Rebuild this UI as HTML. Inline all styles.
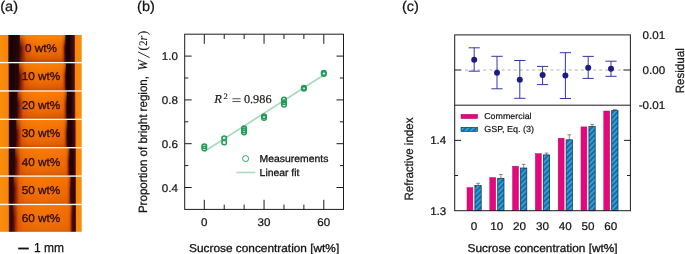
<!DOCTYPE html>
<html><head><meta charset="utf-8"><title>figure</title>
<style>html,body{margin:0;padding:0;background:#fff;}body{width:685px;height:254px;overflow:hidden;}svg{display:block;will-change:transform;}text{text-rendering:geometricPrecision;font-family:"Liberation Sans",sans-serif;fill:#141414;stroke:#141414;stroke-width:0.24px;}.ser,.ser text{font-family:"Liberation Serif",serif;stroke-width:0.15px;}</style>
</head><body>
<svg width="685" height="254" viewBox="0 0 685 254">
<rect width="685" height="254" fill="#fff"/>
<defs>
<linearGradient id="sg0" gradientUnits="userSpaceOnUse" x1="0" y1="0" x2="81.7" y2="0">
<stop offset="0.0000" stop-color="#f88e0e"/>
<stop offset="0.0930" stop-color="#fa840a"/>
<stop offset="0.1102" stop-color="#2a0a06"/>
<stop offset="0.1261" stop-color="#160306"/>
<stop offset="0.2313" stop-color="#280707"/>
<stop offset="0.2534" stop-color="#5a1004"/>
<stop offset="0.2880" stop-color="#a83004"/>
<stop offset="0.3219" stop-color="#e05806"/>
<stop offset="0.3607" stop-color="#e86204"/>
<stop offset="0.3971" stop-color="#ee6a05"/>
<stop offset="0.5018" stop-color="#f27206"/>
<stop offset="0.7430" stop-color="#ee6a05"/>
<stop offset="0.7625" stop-color="#e05c04"/>
<stop offset="0.7797" stop-color="#b03a04"/>
<stop offset="0.7931" stop-color="#4e0f04"/>
<stop offset="0.8078" stop-color="#160306"/>
<stop offset="0.8567" stop-color="#160306"/>
<stop offset="0.8689" stop-color="#2e0708"/>
<stop offset="0.9058" stop-color="#4a0c08"/>
<stop offset="0.9143" stop-color="#8a2806"/>
<stop offset="0.9241" stop-color="#fa840a"/>
<stop offset="1.0000" stop-color="#f88e0e"/>
</linearGradient>
<linearGradient id="sg1" gradientUnits="userSpaceOnUse" x1="0" y1="0" x2="81.7" y2="0">
<stop offset="0.0000" stop-color="#f88e0e"/>
<stop offset="0.0979" stop-color="#fa840a"/>
<stop offset="0.1151" stop-color="#2a0a06"/>
<stop offset="0.1310" stop-color="#160306"/>
<stop offset="0.2203" stop-color="#280707"/>
<stop offset="0.2424" stop-color="#5a1004"/>
<stop offset="0.2729" stop-color="#a83004"/>
<stop offset="0.3038" stop-color="#e05806"/>
<stop offset="0.3390" stop-color="#e86204"/>
<stop offset="0.3721" stop-color="#ee6a05"/>
<stop offset="0.5018" stop-color="#f27206"/>
<stop offset="0.7515" stop-color="#ee6a05"/>
<stop offset="0.7711" stop-color="#e05c04"/>
<stop offset="0.7882" stop-color="#b03a04"/>
<stop offset="0.8017" stop-color="#4e0f04"/>
<stop offset="0.8164" stop-color="#160306"/>
<stop offset="0.8614" stop-color="#160306"/>
<stop offset="0.8736" stop-color="#2e0708"/>
<stop offset="0.9058" stop-color="#4a0c08"/>
<stop offset="0.9143" stop-color="#8a2806"/>
<stop offset="0.9241" stop-color="#fa840a"/>
<stop offset="1.0000" stop-color="#f88e0e"/>
</linearGradient>
<linearGradient id="sg2" gradientUnits="userSpaceOnUse" x1="0" y1="0" x2="81.7" y2="0">
<stop offset="0.0000" stop-color="#f88e0e"/>
<stop offset="0.1004" stop-color="#fa840a"/>
<stop offset="0.1175" stop-color="#2a0a06"/>
<stop offset="0.1334" stop-color="#160306"/>
<stop offset="0.2032" stop-color="#280707"/>
<stop offset="0.2252" stop-color="#5a1004"/>
<stop offset="0.2538" stop-color="#a83004"/>
<stop offset="0.2831" stop-color="#e05806"/>
<stop offset="0.3166" stop-color="#e86204"/>
<stop offset="0.3480" stop-color="#ee6a05"/>
<stop offset="0.5018" stop-color="#f27206"/>
<stop offset="0.7613" stop-color="#ee6a05"/>
<stop offset="0.7809" stop-color="#e05c04"/>
<stop offset="0.7980" stop-color="#b03a04"/>
<stop offset="0.8115" stop-color="#4e0f04"/>
<stop offset="0.8262" stop-color="#160306"/>
<stop offset="0.8679" stop-color="#160306"/>
<stop offset="0.8801" stop-color="#2e0708"/>
<stop offset="0.9082" stop-color="#4a0c08"/>
<stop offset="0.9168" stop-color="#8a2806"/>
<stop offset="0.9266" stop-color="#fa840a"/>
<stop offset="1.0000" stop-color="#f88e0e"/>
</linearGradient>
<linearGradient id="sg3" gradientUnits="userSpaceOnUse" x1="0" y1="0" x2="81.7" y2="0">
<stop offset="0.0000" stop-color="#f88e0e"/>
<stop offset="0.1004" stop-color="#fa840a"/>
<stop offset="0.1175" stop-color="#2a0a06"/>
<stop offset="0.1334" stop-color="#1a0406"/>
<stop offset="0.1885" stop-color="#280707"/>
<stop offset="0.2105" stop-color="#5a1004"/>
<stop offset="0.2378" stop-color="#a83004"/>
<stop offset="0.2660" stop-color="#e05806"/>
<stop offset="0.2983" stop-color="#e86204"/>
<stop offset="0.3286" stop-color="#ee6a05"/>
<stop offset="0.5018" stop-color="#f27206"/>
<stop offset="0.7674" stop-color="#ee6a05"/>
<stop offset="0.7870" stop-color="#e05c04"/>
<stop offset="0.8042" stop-color="#b03a04"/>
<stop offset="0.8176" stop-color="#4e0f04"/>
<stop offset="0.8323" stop-color="#1a0406"/>
<stop offset="0.8734" stop-color="#1a0406"/>
<stop offset="0.8857" stop-color="#2e0708"/>
<stop offset="0.9131" stop-color="#4a0c08"/>
<stop offset="0.9217" stop-color="#8a2806"/>
<stop offset="0.9315" stop-color="#fa840a"/>
<stop offset="1.0000" stop-color="#f88e0e"/>
</linearGradient>
<linearGradient id="sg4" gradientUnits="userSpaceOnUse" x1="0" y1="0" x2="81.7" y2="0">
<stop offset="0.0000" stop-color="#f88e0e"/>
<stop offset="0.0991" stop-color="#fa840a"/>
<stop offset="0.1163" stop-color="#2a0a06"/>
<stop offset="0.1322" stop-color="#220506"/>
<stop offset="0.1738" stop-color="#280707"/>
<stop offset="0.1958" stop-color="#5a1004"/>
<stop offset="0.2231" stop-color="#a83004"/>
<stop offset="0.2513" stop-color="#e05806"/>
<stop offset="0.2837" stop-color="#e86204"/>
<stop offset="0.3140" stop-color="#ee6a05"/>
<stop offset="0.5018" stop-color="#f27206"/>
<stop offset="0.7944" stop-color="#ee6a05"/>
<stop offset="0.8140" stop-color="#e05c04"/>
<stop offset="0.8311" stop-color="#b03a04"/>
<stop offset="0.8446" stop-color="#4e0f04"/>
<stop offset="0.8592" stop-color="#220506"/>
<stop offset="0.8899" stop-color="#220506"/>
<stop offset="0.9021" stop-color="#2e0708"/>
<stop offset="0.9168" stop-color="#4a0c08"/>
<stop offset="0.9253" stop-color="#8a2806"/>
<stop offset="0.9351" stop-color="#fa840a"/>
<stop offset="1.0000" stop-color="#f88e0e"/>
</linearGradient>
<linearGradient id="sg5" gradientUnits="userSpaceOnUse" x1="0" y1="0" x2="81.7" y2="0">
<stop offset="0.0000" stop-color="#f88e0e"/>
<stop offset="0.0991" stop-color="#fa840a"/>
<stop offset="0.1163" stop-color="#2a0a06"/>
<stop offset="0.1322" stop-color="#300707"/>
<stop offset="0.1530" stop-color="#280707"/>
<stop offset="0.1750" stop-color="#5a1004"/>
<stop offset="0.2043" stop-color="#a83004"/>
<stop offset="0.2341" stop-color="#e05806"/>
<stop offset="0.2682" stop-color="#e86204"/>
<stop offset="0.3001" stop-color="#ee6a05"/>
<stop offset="0.5018" stop-color="#f27206"/>
<stop offset="0.8127" stop-color="#ee6a05"/>
<stop offset="0.8323" stop-color="#e05c04"/>
<stop offset="0.8494" stop-color="#b03a04"/>
<stop offset="0.8629" stop-color="#4e0f04"/>
<stop offset="0.8776" stop-color="#300707"/>
<stop offset="0.9006" stop-color="#300707"/>
<stop offset="0.9128" stop-color="#2e0708"/>
<stop offset="0.9180" stop-color="#4a0c08"/>
<stop offset="0.9266" stop-color="#8a2806"/>
<stop offset="0.9364" stop-color="#fa840a"/>
<stop offset="1.0000" stop-color="#f88e0e"/>
</linearGradient>
<linearGradient id="sg6" gradientUnits="userSpaceOnUse" x1="0" y1="0" x2="81.7" y2="0">
<stop offset="0.0000" stop-color="#f88e0e"/>
<stop offset="0.1016" stop-color="#fa840a"/>
<stop offset="0.1187" stop-color="#2a0a06"/>
<stop offset="0.1346" stop-color="#3a0906"/>
<stop offset="0.1444" stop-color="#280707"/>
<stop offset="0.1665" stop-color="#5a1004"/>
<stop offset="0.1937" stop-color="#a83004"/>
<stop offset="0.2220" stop-color="#e05806"/>
<stop offset="0.2543" stop-color="#e86204"/>
<stop offset="0.2846" stop-color="#ee6a05"/>
<stop offset="0.5018" stop-color="#f27206"/>
<stop offset="0.8311" stop-color="#ee6a05"/>
<stop offset="0.8507" stop-color="#e05c04"/>
<stop offset="0.8678" stop-color="#b03a04"/>
<stop offset="0.8813" stop-color="#4e0f04"/>
<stop offset="0.8960" stop-color="#3a0906"/>
<stop offset="0.9106" stop-color="#3a0906"/>
<stop offset="0.9229" stop-color="#2e0708"/>
<stop offset="0.9180" stop-color="#4a0c08"/>
<stop offset="0.9266" stop-color="#8a2806"/>
<stop offset="0.9364" stop-color="#fa840a"/>
<stop offset="1.0000" stop-color="#f88e0e"/>
</linearGradient>
<linearGradient id="vshade" x1="0" y1="0" x2="0" y2="1"><stop offset="0" stop-color="#ff8e08" stop-opacity="0.75"/><stop offset="0.2" stop-color="#ff8a08" stop-opacity="0.45"/><stop offset="0.45" stop-color="#ff8608" stop-opacity="0"/><stop offset="0.6" stop-color="#a02800" stop-opacity="0"/><stop offset="0.88" stop-color="#a02800" stop-opacity="0.28"/><stop offset="1" stop-color="#8a2000" stop-opacity="0.5"/></linearGradient>
<pattern id="hatch" patternUnits="userSpaceOnUse" width="3.7" height="3.7" patternTransform="rotate(-45)"><rect width="3.7" height="3.7" fill="#27a0e4"/><line x1="0" y1="1.85" x2="3.7" y2="1.85" stroke="#06101e" stroke-width="0.7"/></pattern>
</defs>
<text transform="translate(0.25,10.80) scale(1,0.965)" font-size="14.5">(a)</text>
<rect x="0" y="35.00" width="81.7" height="26.92" fill="url(#sg0)"/>
<rect x="19.9" y="35.00" width="45.40" height="26.92" fill="url(#vshade)" opacity="1.0"/>
<text transform="translate(41.00,52.16) scale(1,0.965)" font-size="11.8" text-anchor="middle" style="fill:#2c0c06;stroke:#2c0c06;stroke-width:0.3px">0 wt%</text>
<rect x="0" y="63.28" width="81.7" height="27.01" fill="url(#sg1)"/>
<rect x="19.0" y="63.28" width="47.00" height="27.01" fill="url(#vshade)" opacity="0.8"/>
<text transform="translate(41.00,80.48) scale(1,0.965)" font-size="11.8" text-anchor="middle" style="fill:#2c0c06;stroke:#2c0c06;stroke-width:0.3px">10 wt%</text>
<rect x="0" y="91.65" width="81.7" height="27.01" fill="url(#sg2)"/>
<rect x="17.6" y="91.65" width="49.20" height="27.01" fill="url(#vshade)" opacity="0.7"/>
<text transform="translate(41.00,108.85) scale(1,0.965)" font-size="11.8" text-anchor="middle" style="fill:#2c0c06;stroke:#2c0c06;stroke-width:0.3px">20 wt%</text>
<rect x="0" y="120.02" width="81.7" height="27.01" fill="url(#sg3)"/>
<rect x="16.4" y="120.02" width="50.90" height="27.01" fill="url(#vshade)" opacity="0.65"/>
<text transform="translate(41.00,137.22) scale(1,0.965)" font-size="11.8" text-anchor="middle" style="fill:#2c0c06;stroke:#2c0c06;stroke-width:0.3px">30 wt%</text>
<rect x="0" y="148.39" width="81.7" height="27.01" fill="url(#sg4)"/>
<rect x="15.2" y="148.39" width="54.30" height="27.01" fill="url(#vshade)" opacity="0.55"/>
<text transform="translate(41.00,165.59) scale(1,0.965)" font-size="11.8" text-anchor="middle" style="fill:#2c0c06;stroke:#2c0c06;stroke-width:0.3px">40 wt%</text>
<rect x="0" y="176.76" width="81.7" height="27.01" fill="url(#sg5)"/>
<rect x="13.5" y="176.76" width="57.50" height="27.01" fill="url(#vshade)" opacity="0.4"/>
<text transform="translate(41.00,193.96) scale(1,0.965)" font-size="11.8" text-anchor="middle" style="fill:#2c0c06;stroke:#2c0c06;stroke-width:0.3px">50 wt%</text>
<rect x="0" y="205.13" width="81.7" height="26.67" fill="url(#sg6)"/>
<rect x="12.8" y="205.13" width="59.70" height="26.67" fill="url(#vshade)" opacity="0.3"/>
<text transform="translate(41.00,222.16) scale(1,0.965)" font-size="11.8" text-anchor="middle" style="fill:#2c0c06;stroke:#2c0c06;stroke-width:0.3px">60 wt%</text>
<rect x="18.2" y="247.6" width="10.6" height="1.8" fill="#111"/>
<text transform="translate(34.0,251.9) scale(1,1.08)" font-size="12">1 mm</text>
<text transform="translate(137.05,10.80) scale(1,0.965)" font-size="14.5">(b)</text>
<rect x="184.7" y="34.2" width="158.8" height="175.2" fill="none" stroke="#1c1c1c" stroke-width="1.0"/>
<path d="M204.30 209.4 v-9.6 M204.30 34.2 v9.6 M224.22 209.4 v-4.8 M224.22 34.2 v4.8 M244.13 209.4 v-4.8 M244.13 34.2 v4.8 M264.05 209.4 v-9.6 M264.05 34.2 v9.6 M283.97 209.4 v-4.8 M283.97 34.2 v4.8 M303.88 209.4 v-4.8 M303.88 34.2 v4.8 M323.80 209.4 v-9.6 M323.80 34.2 v9.6 M184.7 187.50 h7.0 M343.5 187.50 h-7.0 M184.7 165.60 h3.6 M343.5 165.60 h-3.6 M184.7 143.70 h7.0 M343.5 143.70 h-7.0 M184.7 121.80 h3.6 M343.5 121.80 h-3.6 M184.7 99.90 h7.0 M343.5 99.90 h-7.0 M184.7 78.00 h3.6 M343.5 78.00 h-3.6 M184.7 56.10 h7.0 M343.5 56.10 h-7.0" stroke="#1c1c1c" stroke-width="1.0" fill="none"/>
<text transform="translate(204.30,226.20) scale(1,0.965)" font-size="11.6" text-anchor="middle">0</text>
<text transform="translate(264.05,226.20) scale(1,0.965)" font-size="11.6" text-anchor="middle">30</text>
<text transform="translate(323.80,226.20) scale(1,0.965)" font-size="11.6" text-anchor="middle">60</text>
<text transform="translate(177.90,191.50) scale(1,0.965)" font-size="11.6" text-anchor="end">0.4</text>
<text transform="translate(177.90,147.70) scale(1,0.965)" font-size="11.6" text-anchor="end">0.6</text>
<text transform="translate(177.90,103.90) scale(1,0.965)" font-size="11.6" text-anchor="end">0.8</text>
<text transform="translate(177.90,60.10) scale(1,0.965)" font-size="11.6" text-anchor="end">1.0</text>
<text transform="translate(189.10,251.50) scale(1,0.965)" font-size="11.85" style="stroke-width:0.32px">Sucrose concentration [wt%]</text>
<text transform="translate(146.90,213.10) rotate(-90) scale(0.965,1)" font-size="12">Proportion of bright region,</text>
<g class="ser">
<text transform="translate(146.90,70.60) rotate(-90) scale(0.965,1)" font-size="13" font-style="italic">W</text>
<line x1="149.6" y1="57.6" x2="138.1" y2="51.9" stroke="#141414" stroke-width="0.9"/>
<text transform="translate(146.90,50.40) rotate(-90) scale(0.965,1)" font-size="13">(</text>
<text transform="translate(146.90,46.00) rotate(-90) scale(0.965,1)" font-size="11.5">2</text>
<text transform="translate(146.90,40.40) rotate(-90) scale(0.965,1)" font-size="12.5" font-style="italic">r</text>
<text transform="translate(146.90,35.10) rotate(-90) scale(0.965,1)" font-size="13">)</text>
</g>
<line x1="204.30" y1="151.5" x2="323.80" y2="75" stroke="#a8d8be" stroke-width="1.55"/>
<circle cx="204.30" cy="146.2" r="2.3" fill="none" stroke="#1f9c55" stroke-width="1.5"/>
<circle cx="204.30" cy="148.5" r="2.3" fill="none" stroke="#1f9c55" stroke-width="1.5"/>
<circle cx="224.22" cy="138.3" r="2.3" fill="none" stroke="#1f9c55" stroke-width="1.5"/>
<circle cx="224.22" cy="142.4" r="2.3" fill="none" stroke="#1f9c55" stroke-width="1.5"/>
<circle cx="244.13" cy="128.2" r="2.3" fill="none" stroke="#1f9c55" stroke-width="1.5"/>
<circle cx="244.13" cy="130.4" r="2.3" fill="none" stroke="#1f9c55" stroke-width="1.5"/>
<circle cx="244.13" cy="132.5" r="2.3" fill="none" stroke="#1f9c55" stroke-width="1.5"/>
<circle cx="264.05" cy="116.3" r="2.3" fill="none" stroke="#1f9c55" stroke-width="1.5"/>
<circle cx="264.05" cy="117.9" r="2.3" fill="none" stroke="#1f9c55" stroke-width="1.5"/>
<circle cx="283.97" cy="99.6" r="2.3" fill="none" stroke="#1f9c55" stroke-width="1.5"/>
<circle cx="283.97" cy="102.3" r="2.3" fill="none" stroke="#1f9c55" stroke-width="1.5"/>
<circle cx="283.97" cy="104.8" r="2.3" fill="none" stroke="#1f9c55" stroke-width="1.5"/>
<circle cx="303.88" cy="87.7" r="2.3" fill="none" stroke="#1f9c55" stroke-width="1.5"/>
<circle cx="303.88" cy="88.8" r="2.3" fill="none" stroke="#1f9c55" stroke-width="1.5"/>
<circle cx="323.80" cy="72.9" r="2.3" fill="none" stroke="#1f9c55" stroke-width="1.5"/>
<circle cx="323.80" cy="74.0" r="2.3" fill="none" stroke="#1f9c55" stroke-width="1.5"/>
<g class="ser">
<text transform="translate(214.30,103.00) scale(1,0.965)" font-size="12.5" font-style="italic">R</text>
<text transform="translate(223.40,98.60) scale(1,0.965)" font-size="8.6">2</text>
<path d="M232.4 98.75 h8.2 M232.4 101.55 h8.2" stroke="#1c1c1c" stroke-width="0.75" fill="none"/>
<text transform="translate(243.90,103.00) scale(1,0.965)" font-size="12.3">0.986</text>
</g>
<circle cx="245.6" cy="158.6" r="3" fill="none" stroke="#2aa562" stroke-width="1"/>
<line x1="236.4" y1="172.5" x2="255.4" y2="172.5" stroke="#a9dcc1" stroke-width="1.6"/>
<text transform="translate(259.60,162.30) scale(1,0.965)" font-size="10.4" style="stroke-width:0.3px">Measurements</text>
<text transform="translate(259.60,175.60) scale(1,0.965)" font-size="10.4" style="stroke-width:0.3px">Linear fit</text>
<text transform="translate(401.95,10.80) scale(1,0.965)" font-size="14.5">(c)</text>
<rect x="467.00" y="187.6" width="5.9" height="23.10" fill="#e6077e" stroke="#b00a5e" stroke-width="0.5"/>
<path d="M478.10 185.4 V183.3 M476.20 183.3 h3.8" stroke="#6c6c6c" stroke-width="0.8" fill="none"/>
<rect x="474.90" y="185.6" width="6.3" height="25.10" fill="url(#hatch)" stroke="#13283f" stroke-width="0.7"/>
<rect x="489.80" y="177.6" width="5.9" height="33.10" fill="#e6077e" stroke="#b00a5e" stroke-width="0.5"/>
<path d="M500.90 178.1 V174.4 M499.00 174.4 h3.8" stroke="#6c6c6c" stroke-width="0.8" fill="none"/>
<rect x="497.70" y="178.29999999999998" width="6.3" height="32.40" fill="url(#hatch)" stroke="#13283f" stroke-width="0.7"/>
<rect x="512.60" y="166.2" width="5.9" height="44.50" fill="#e6077e" stroke="#b00a5e" stroke-width="0.5"/>
<path d="M523.70 167.8 V164.3 M521.80 164.3 h3.8" stroke="#6c6c6c" stroke-width="0.8" fill="none"/>
<rect x="520.50" y="168.0" width="6.3" height="42.70" fill="url(#hatch)" stroke="#13283f" stroke-width="0.7"/>
<rect x="535.40" y="153.7" width="5.9" height="57.00" fill="#e6077e" stroke="#b00a5e" stroke-width="0.5"/>
<path d="M546.50 154.7 V153.1 M544.60 153.1 h3.8" stroke="#6c6c6c" stroke-width="0.8" fill="none"/>
<rect x="543.30" y="154.89999999999998" width="6.3" height="55.80" fill="url(#hatch)" stroke="#13283f" stroke-width="0.7"/>
<rect x="558.20" y="138.2" width="5.9" height="72.50" fill="#e6077e" stroke="#b00a5e" stroke-width="0.5"/>
<path d="M569.30 139.6 V134.8 M567.40 134.8 h3.8" stroke="#6c6c6c" stroke-width="0.8" fill="none"/>
<rect x="566.10" y="139.79999999999998" width="6.3" height="70.90" fill="url(#hatch)" stroke="#13283f" stroke-width="0.7"/>
<rect x="581.00" y="126.9" width="5.9" height="83.80" fill="#e6077e" stroke="#b00a5e" stroke-width="0.5"/>
<path d="M592.10 126.3 V124.4 M590.20 124.4 h3.8" stroke="#6c6c6c" stroke-width="0.8" fill="none"/>
<rect x="588.90" y="126.5" width="6.3" height="84.20" fill="url(#hatch)" stroke="#13283f" stroke-width="0.7"/>
<rect x="603.80" y="111.0" width="5.9" height="99.70" fill="#e6077e" stroke="#b00a5e" stroke-width="0.5"/>
<path d="M614.90 110.4 V109.6 M613.00 109.6 h3.8" stroke="#6c6c6c" stroke-width="0.8" fill="none"/>
<rect x="611.70" y="110.60000000000001" width="6.3" height="100.10" fill="url(#hatch)" stroke="#13283f" stroke-width="0.7"/>
<rect x="454.7" y="34.9" width="175.7" height="175.79999999999998" fill="none" stroke="#1c1c1c" stroke-width="1.0"/>
<line x1="454.7" y1="105.2" x2="630.4" y2="105.2" stroke="#1c1c1c" stroke-width="1.0"/>
<path d="M454.7 140.37 h6.4 M630.4 140.37 h-6.4 M454.7 175.53 h3.4 M630.4 175.53 h-3.4 M454.7 70.0 h6.6 M630.4 70.0 h-7" stroke="#1c1c1c" stroke-width="1.0" fill="none"/>
<line x1="465" y1="70.0" x2="623" y2="70.0" stroke="#b2b2b2" stroke-width="1.1" stroke-dasharray="3 3.1"/>
<path d="M474.20 47.8 V71.2 M468.60 47.8 h11.2 M468.60 71.2 h11.2" stroke="#3636a2" stroke-width="1.0" fill="none"/>
<circle cx="474.20" cy="59.7" r="3" fill="#1b1b8a"/>
<path d="M497.00 56.3 V88.8 M491.40 56.3 h11.2 M491.40 88.8 h11.2" stroke="#3636a2" stroke-width="1.0" fill="none"/>
<circle cx="497.00" cy="72.7" r="3" fill="#1b1b8a"/>
<path d="M519.80 60.5 V98.3 M514.20 60.5 h11.2 M514.20 98.3 h11.2" stroke="#3636a2" stroke-width="1.0" fill="none"/>
<circle cx="519.80" cy="79.7" r="3" fill="#1b1b8a"/>
<path d="M542.60 66.4 V84.6 M537.00 66.4 h11.2 M537.00 84.6 h11.2" stroke="#3636a2" stroke-width="1.0" fill="none"/>
<circle cx="542.60" cy="75.1" r="3" fill="#1b1b8a"/>
<path d="M565.40 52.7 V98.5 M559.80 52.7 h11.2 M559.80 98.5 h11.2" stroke="#3636a2" stroke-width="1.0" fill="none"/>
<circle cx="565.40" cy="75.6" r="3" fill="#1b1b8a"/>
<path d="M588.20 56.4 V78.4 M582.60 56.4 h11.2 M582.60 78.4 h11.2" stroke="#3636a2" stroke-width="1.0" fill="none"/>
<circle cx="588.20" cy="67.8" r="3" fill="#1b1b8a"/>
<path d="M611.00 61.2 V76.3 M605.40 61.2 h11.2 M605.40 76.3 h11.2" stroke="#3636a2" stroke-width="1.0" fill="none"/>
<circle cx="611.00" cy="68.7" r="3" fill="#1b1b8a"/>
<text transform="translate(474.00,229.80) scale(1,0.965)" font-size="11.7" text-anchor="middle">0</text>
<text transform="translate(496.80,229.80) scale(1,0.965)" font-size="11.7" text-anchor="middle">10</text>
<text transform="translate(519.60,229.80) scale(1,0.965)" font-size="11.7" text-anchor="middle">20</text>
<text transform="translate(542.40,229.80) scale(1,0.965)" font-size="11.7" text-anchor="middle">30</text>
<text transform="translate(565.20,229.80) scale(1,0.965)" font-size="11.7" text-anchor="middle">40</text>
<text transform="translate(588.00,229.80) scale(1,0.965)" font-size="11.7" text-anchor="middle">50</text>
<text transform="translate(610.80,229.80) scale(1,0.965)" font-size="11.7" text-anchor="middle">60</text>
<text transform="translate(467.50,251.60) scale(1,0.965)" font-size="11.85" style="stroke-width:0.32px">Sucrose concentration [wt%]</text>
<text transform="translate(446.30,144.37) scale(1,0.965)" font-size="11.6" text-anchor="end">1.4</text>
<text transform="translate(446.30,215.10) scale(1,0.965)" font-size="11.6" text-anchor="end">1.3</text>
<text transform="translate(412.60,200.50) rotate(-90) scale(0.965,1)" font-size="12">Refractive index</text>
<text transform="translate(665.10,39.00) scale(1,0.965)" font-size="11.6" text-anchor="end">0.01</text>
<text transform="translate(665.10,74.00) scale(1,0.965)" font-size="11.6" text-anchor="end">0.00</text>
<text transform="translate(665.10,108.60) scale(1,0.965)" font-size="11.6" text-anchor="end">-0.01</text>
<text transform="translate(683.60,93.30) rotate(-90) scale(0.965,1)" font-size="12">Residual</text>
<rect x="461.0" y="114.3" width="16.6" height="4.3" fill="#e6077e" stroke="#a80a5a" stroke-width="0.5"/>
<rect x="461.0" y="127.3" width="16.6" height="4.2" fill="url(#hatch)" stroke="#13283f" stroke-width="0.6"/>
<text transform="translate(484.20,119.40) scale(1,0.965)" font-size="8.9" style="stroke-width:0.2px">Commercial</text>
<text transform="translate(484.20,132.00) scale(1,0.965)" font-size="9.0" style="stroke-width:0.2px">GSP, Eq. (3)</text>
</svg></body></html>
